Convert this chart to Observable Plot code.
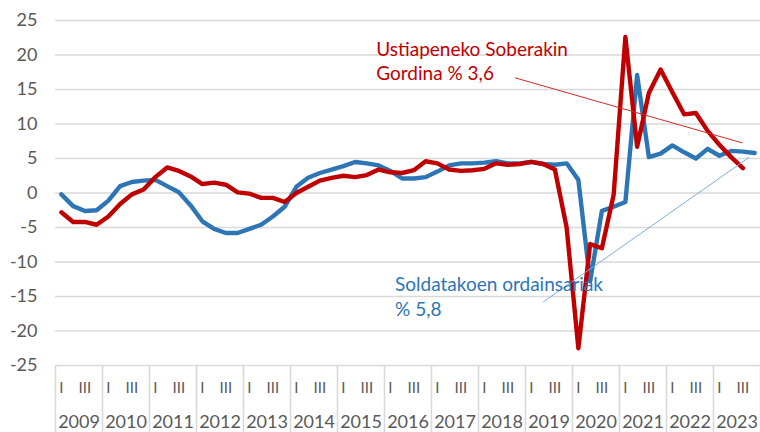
<!DOCTYPE html>
<html><head><meta charset="utf-8">
<script src="https://cdn.jsdelivr.net/npm/d3@7"></script>
<script src="https://cdn.jsdelivr.net/npm/@observablehq/plot@0.6"></script>
<style>body{margin:0;background:#fff;}</style>
</head><body><div id="chart"></div>
<script>
const years = [2009,2010,2011,2012,2013,2014,2015,2016,2017,2018,2019,2020,2021,2022,2023];
const quarterLabels = ["I","","III",""];
const yTicks = [-25,-20,-15,-10,-5,0,5,10,15,20,25];

// Soldatakoen ordainsariak (blue), quarterly 2009 I - 2023 IV
const soldatakoen = [
  -0.2,-1.9,-2.6,-2.5,
  -1.1, 1.0, 1.6, 1.8,
   1.9, 1.0, 0.1,-1.8,
  -4.1,-5.2,-5.8,-5.8,
  -5.2,-4.6,-3.4,-2.0,
   0.9, 2.2, 2.9, 3.4,
   3.9, 4.5, 4.3, 4.0,
   3.2, 2.1, 2.1, 2.3,
   3.1, 4.0, 4.3, 4.3,
   4.4, 4.6, 4.3, 4.3,
   4.5, 4.2, 4.1, 4.3,
   1.9,-12.8,-2.6,-2.0,
  -1.3,17.1, 5.2, 5.7,
   6.9, 5.9, 5.0, 6.4,
   5.4, 6.1, 6.0, 5.8
];
// Ustiapeneko Soberakin Gordina (red), quarterly 2009 I - 2023 III
const soberakin = [
  -2.8,-4.2,-4.2,-4.6,
  -3.4,-1.6,-0.2, 0.5,
   2.3, 3.7, 3.2, 2.4,
   1.3, 1.5, 1.2, 0.1,
  -0.1,-0.7,-0.7,-1.3,
   0.0, 0.9, 1.8, 2.2,
   2.5, 2.3, 2.6, 3.4,
   3.0, 2.9, 3.3, 4.6,
   4.3, 3.4, 3.2, 3.3,
   3.5, 4.3, 4.1, 4.2,
   4.5, 4.2, 3.4,-5.0,
 -22.5,-7.4,-8.0,-0.3,
  22.6, 6.7,14.5,17.9,
  14.6,11.4,11.6, 9.0,
   7.0, 5.2, 3.6
];

const labels = [
  {text: "Ustiapeneko Soberakin\nGordina % 3,6", q: 26.8, v: 19.2, color: "#c00000"},
  {text: "Soldatakoen ordainsariak\n% 5,8", q: 28.4, v: -14.9, color: "#2e75b6"}
];
const leaders = [
  {q1: 38.6, v1: 16.7, q2: 57.97, v2: 7.25, color: "#d42a2a"},
  {q1: 41.0, v1: -15.8, q2: 58.56, v2: 5.2, color: "#7aaee0"}
];

const nQ = years.length * 4;
const boundaries = d3.range(0, years.length + 1).map(k => 4 * k - 0.5);
const quarterTicks = d3.range(0, nQ).filter(i => i % 4 === 0 || i % 4 === 2);
const yearTicks = years.map((y, k) => 4 * k + 1.5);

const chart = Plot.plot({
  width: 760, height: 432,
  marginTop: 20, marginBottom: 67, marginLeft: 55, marginRight: 0,
  style: {fontFamily: "Lato, 'Open Sans', sans-serif", background: "#fff"},
  x: {domain: [-0.5, nQ - 0.5], axis: null},
  y: {domain: [-25, 25], axis: null},
  marks: [
    Plot.gridY(yTicks, {stroke: "#d9d9d9", strokeOpacity: 1, strokeWidth: 1.6}),
    Plot.axisY(yTicks, {tickSize: 0, tickPadding: 18, fontSize: 18, fill: "#595959", tickFormat: d => String(d)}),
    Plot.axisX(boundaries, {tickSize: 67, stroke: "#d9d9d9", strokeWidth: 1.6, strokeOpacity: 1, tickFormat: () => ""}),
    Plot.axisX(quarterTicks, {tickSize: 0, tickPadding: 17, fontSize: 15, fill: "#595959", tickFormat: i => quarterLabels[i % 4]}),
    Plot.axisX(yearTicks, {tickSize: 0, tickPadding: 50, fontSize: 18, fill: "#595959", tickFormat: d => String(years[(d - 1.5) / 4])}),
    Plot.lineY(soldatakoen, {stroke: "#2e75b6", strokeWidth: 4.4}),
    Plot.lineY(soberakin, {stroke: "#c00000", strokeWidth: 4.4}),
    Plot.link(leaders, {x1: "q1", y1: "v1", x2: "q2", y2: "v2", stroke: "color", strokeWidth: 1}),
    Plot.text(labels, {x: "q", y: "v", text: "text", fill: "color", textAnchor: "start", lineAnchor: "middle", fontSize: 19, lineHeight: 1.27})
  ]
});
document.getElementById("chart").append(chart);
</script>
</body></html>
